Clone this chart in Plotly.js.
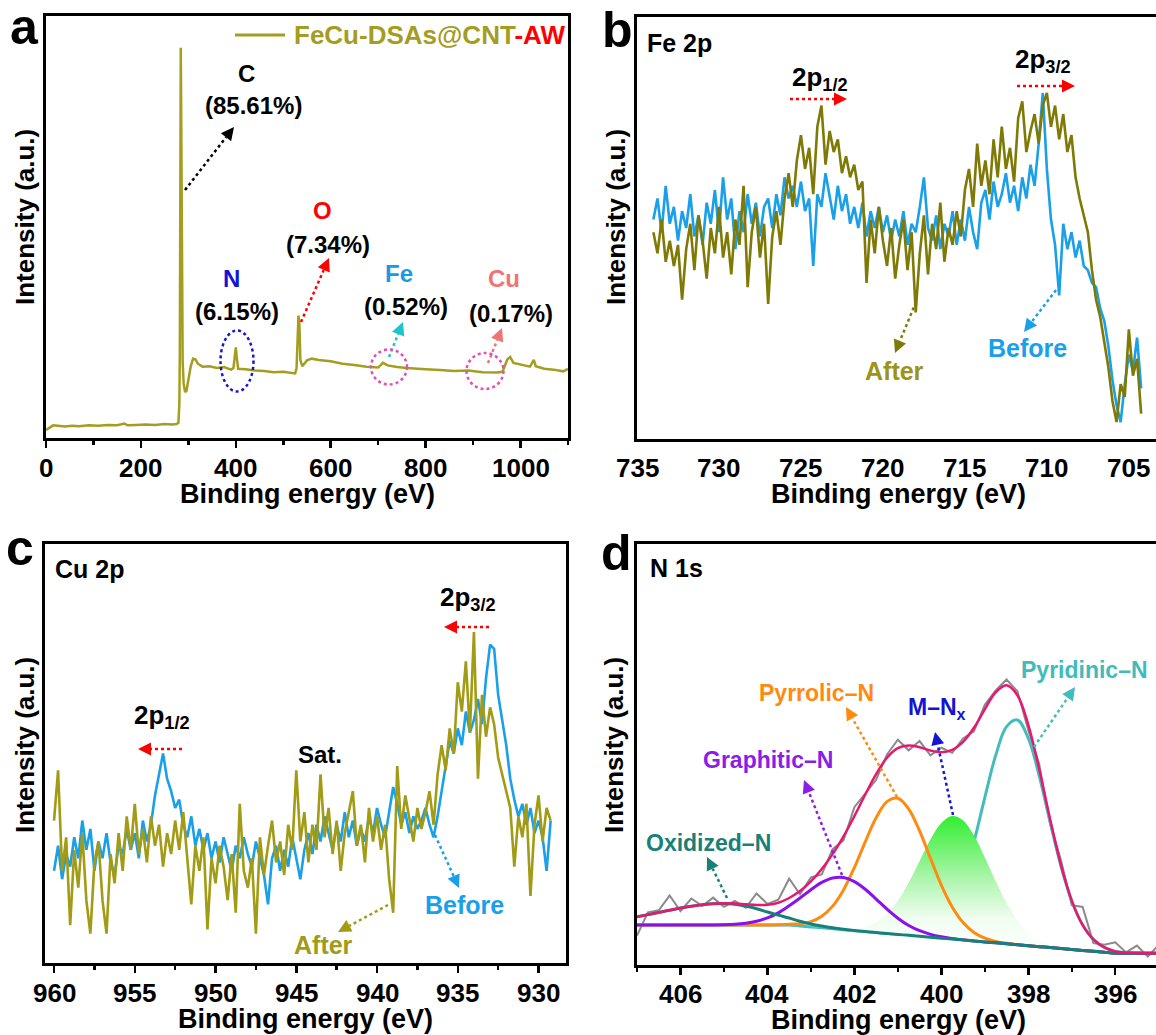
<!DOCTYPE html>
<html><head><meta charset="utf-8">
<script src="https://cdn.plot.ly/plotly-3.0.1.min.js"></script>
<style>html,body{margin:0;padding:0;overflow:hidden;background:#fff}#chart{width:1164px;height:1035px}</style>
</head><body><div id="chart"></div>
<script>
// ---------- DATA ----------
// (a) survey spectrum
const surveyBE = [0,8,15,25,40,55,70,90,110,130,150,165,172,190,210,230,250,265,275,279,281,282,283,284,285,286,287,288,290,293,296,300,305,310,315,320,330,345,360,375,390,395,398,400,402,405,420,440,460,480,500,515,525,528,530,532,534,536,540,550,560,575,600,625,650,675,700,710,720,740,760,780,800,830,860,890,920,950,962,972,978,985,995,1005,1020,1028,1032,1050,1070,1090,1100];
const surveyI  = [1.9,2.4,3.0,2.9,2.7,2.9,2.8,3.0,2.9,3.1,3.0,3.4,3.0,3.1,3.2,3.1,3.3,3.2,3.3,3.6,8.0,20,60,92.5,75,40,26,18,13,10.9,11.2,13.5,17.0,18.8,18.6,17.6,16.9,17.0,16.6,16.8,16.2,16.6,19.5,21.5,19.0,16.4,16.3,16.0,15.9,15.6,15.7,15.5,15.3,16.5,24,29.0,27,18.5,17.0,18.4,18.8,18.5,18.2,17.6,17.3,16.9,16.7,17.8,17.2,16.8,16.6,16.4,16.3,16.1,15.9,16.0,15.6,15.5,15.7,18.6,19.2,17.8,17.5,17.3,16.9,18.5,17.0,16.4,16.2,15.8,16.4];

// (b) Fe 2p, sampled from 734.00 eV down to 704.25 eV every 0.25 eV
const feStart = 734.0, feStep = 0.25;
const feAfter = [49,44,52,42,47,41,46,33, 45,51,40,53,47,38,50,44, 55,43,49,39,52,46,60,36, 49,55,43,51,32,48,54,46,
  57,63,55,66,72,64,69,58, 74,79,65,73,68,71,63,67, 62,65,59,61,37,52,44,55, 47,41,50,38,46,52,40,49,
  30,44,53,39,51,45,56,42, 50,46,54,48,59,64,55,70, 60,66,58,71,62,74,64,69, 61,76,80,68,73,77,70,79,
  82,74,79,71,77,68,72,62, 57,53,49,40,33,29,23,17, 9,4,13,10,26,15,19,6];
const feBefore = [52,57,49,60,51,55,47,54, 50,58,48,53,46,56,51,59, 49,62,52,57,45,54,49,58, 51,56,48,55,57,50,58,53,
  62,57,60,55,61,54,57,41, 58,55,63,57,52,60,54,58, 51,55,50,56,48,54,50,55, 49,53,47,52,48,54,46,51,
  49,55,62,50,47,53,45,51, 48,54,46,52,47,55,49,45, 56,59,52,61,55,58,63,56, 60,54,62,57,65,60,70,82,
  64,52,46,34,51,45,49,43, 47,41,40,37,36,31,28,22, 14,8,4,13,20,16,24,12];

// (c) Cu 2p, sampled from 960.00 eV down to 929.25 eV every 0.25 eV
const cuStart = 960.0, cuStep = 0.25;
const cuAfter = [34,46,22,30,9,27,18,31, 15,7,24,29,15,7,26,19, 31,22,35,27,38,26,32,24, 35,28,33,23,31,26,34,27,
  36,25,14,28,22,30,8,25, 19,28,23,15,26,12,38,22, 18,25,7,30,21,28,34,24, 29,21,33,27,46,29,36,24,
  33,27,45,30,37,26,34,22, 31,36,41,28,33,24,37,29, 35,27,33,20,12,47,32,40, 34,29,37,32,36,41,33,45,
  52,46,56,50,67,60,72,55, 79,44,64,54,61,57,49,45, 41,37,23,35,30,38,16,33, 40,29,37,34];
const cuBefore = [22,28,20,26,23,30,25,34, 27,32,22,29,25,31,24,21, 28,26,32,27,31,25,34,29, 33,40,45,50,44,41,37,39,
  33,30,35,28,32,27,31,25, 29,24,30,26,22,28,25,30, 26,23,29,25,21,14,25,28, 22,27,23,30,25,20,27,31,
  26,33,29,35,31,27,33,29, 36,30,34,28,32,29,35,31, 37,33,30,36,42,38,33,36, 31,35,32,34,37,33,30,35,
  41,48,53,50,56,52,60,55, 58,63,57,68,76,75,64,58, 52,44,39,35,38,33,37,31, 34,30,22,34];

// (d) N 1s
const n1sBE = [407,406.75,406.5,406.25,406,405.75,405.5,405.25,405,404.75,404.5,404.25,404,403.75,403.5,403.25,403,402.75,402.5,402.25,402,401.75,401.5,401.25,401,400.75,400.5,400.25,400,399.75,399.5,399.25,399,398.75,398.5,398.25,398,397.75,397.5,397.25,397,396.75,396.5,396.25,396,395.75,395.5,395.25,395];
const n1sRaw = [7.0,12.5,13.0,16.5,12.8,15.8,14.0,16.0,13.8,15.2,13.6,17.0,14.5,15.5,20.5,16.8,20.8,21.5,27.5,29.6,37.5,40.8,44.0,50.0,53.5,51.0,53.2,49.8,51.6,50.4,53.8,55.5,61.8,65.2,67.8,65.0,55.8,47.8,33.6,25.0,14.2,13.8,5.2,4.8,5.4,3.0,4.6,2.0,4.8];
const n1sBaseline = [9.5,9.5,9.5,9.5,9.5,9.5,9.5,9.5,9.5,9.5,9.5,9.5,9.5,9.5,9.5,9.28,9.05,8.83,8.61,8.38,8.16,7.94,7.71,7.49,7.27,7.04,6.82,6.60,6.37,6.15,5.93,5.70,5.48,5.26,5.03,4.81,4.59,4.36,4.14,3.92,3.69,3.47,3.25,3.02,2.80,2.8,2.8,2.8,2.8];
const oxidizedN = [11.47,11.96,12.48,13.02,13.52,13.96,14.30,14.52,14.60,14.44,14.0,13.35,12.59,11.84,11.16,10.38,9.74,9.24,8.83,8.50,8.22,7.96,7.71,7.49,7.27,7.04,6.82,6.60,6.37,6.15,5.93,5.70,5.48,5.26,5.03,4.81,4.59,4.36,4.14,3.92,3.69,3.47,3.25,3.02,2.80,2.8,2.8,2.8,2.8];
const graphiticN = [9.5,9.5,9.5,9.5,9.5,9.5,9.51,9.53,9.58,9.69,9.93,10.39,11.18,12.39,14.07,15.92,17.88,19.61,20.67,20.76,19.81,18.0,15.67,13.27,11.12,9.39,8.14,7.28,6.69,6.29,5.98,5.70,5.48,5.26,5.03,4.81,4.59,4.36,4.14,3.92,3.69,3.47,3.25,3.02,2.80,2.8,2.8,2.8,2.8];
const pyrrolicN = [9.5,9.5,9.5,9.5,9.5,9.5,9.5,9.5,9.5,9.5,9.5,9.5,9.5,9.56,9.69,9.80,10.31,11.57,13.98,17.84,23.14,29.25,34.96,38.80,39.60,37.04,31.84,25.35,19.0,13.8,10.09,7.73,6.37,5.61,5.16,4.85,4.59,4.36,4.14,3.92,3.69,3.47,3.25,3.02,2.80,2.8,2.8,2.8,2.8];
const mNx = [9.5,9.5,9.5,9.5,9.5,9.5,9.5,9.5,9.5,9.5,9.5,9.5,9.5,9.5,9.5,9.28,9.05,8.86,8.68,8.58,8.66,9.10,10.14,12.11,15.25,19.58,24.73,29.82,33.71,35.39,34.34,30.78,25.58,19.90,14.71,10.63,7.76,5.93,4.85,4.21,3.80,3.51,3.25,3.02,2.80,2.8,2.8,2.8,2.8];
const pyridinicN = [9.5,9.5,9.5,9.5,9.5,9.5,9.5,9.5,9.5,9.5,9.5,9.5,9.5,9.5,9.5,9.28,9.05,8.83,8.61,8.38,8.16,7.94,7.71,7.51,7.34,7.27,7.48,8.29,10.24,14.07,20.38,29.24,39.75,49.77,56.61,58.20,53.89,45.0,34.05,23.56,15.19,9.49,6.06,4.19,3.24,2.94,2.84,2.80,2.80];
const n1sFit = [11.47,11.96,12.48,13.02,13.52,13.96,14.31,14.55,14.68,14.63,14.43,14.24,14.29,14.79,15.92,17.55,19.85,22.79,26.33,30.54,35.35,40.49,45.35,49.22,51.50,52.16,51.73,50.94,50.53,51.10,53.0,56.35,60.74,64.76,66.42,64.06,57.06,46.57,34.76,23.85,15.30,9.53,6.06,4.19,3.24,2.94,2.84,2.80,2.80];

// tick settings and tick labels
const surveyTicks = {dtick:200, minor:100}, surveyTickVals = [0,200,400,600,800,1000];
const feTicks = {dtick:5},                 feTickVals = [735,730,725,720,715,710,705];
const cuTicks = {dtick:5, minor:2.5},      cuTickVals = [960,955,950,945,940,935,930];
const n1sTicks = {dtick:2, minor:1},       n1sTickVals = [406,404,402,400,398,396];

// ---------- LAYOUT HELPERS ----------
const W = 1164, H = 1035;
const PX = x => x / W, PY = y => 1 - y / H;
const FONT = 'Liberation Sans, Arial, Helvetica, sans-serif';
const grid = (start, step, n) => Array.from({length:n}, (_, i) => +(start - i*step).toFixed(3));
const feBE = grid(feStart, feStep, feAfter.length);
const cuBE = grid(cuStart, cuStep, cuAfter.length);

const OLIVE_A = '#a59d1f', OLIVE_B = '#7f7a05', OLIVE_C = '#a29b16', BLUE = '#1aa0e8';

function xax(dom, range, t, showTicks, id) {
  const a = {domain:[PX(dom[0]), PX(dom[1])], range, autorange:false, anchor:'y'+id,
    showline:true, linewidth:3, linecolor:'#000', mirror:true, showgrid:false, zeroline:false,
    ticks: showTicks ? 'outside' : '', ticklen:7, tickwidth:2.5, tickcolor:'#000',
    dtick:t.dtick, tick0:0, showticklabels:false};
  if (t.minor) a.minor = {dtick:t.minor, tick0:0, ticks:'outside', ticklen:4, tickwidth:2.5, tickcolor:'#000', showgrid:false};
  return a;
}
function yax(dom, id) {
  return {domain:[PY(dom[1]), PY(dom[0])], range:[0,100], autorange:false, anchor:'x'+id,
    showline:true, linewidth:3, linecolor:'#000', mirror:true, showgrid:false, zeroline:false,
    ticks:'', showticklabels:false};
}

const shapes = [], annotations = [];
function txt(x, y, text, size, color, opts) {
  annotations.push(Object.assign({xref:'paper', yref:'paper', x:PX(x), y:PY(y), text, showarrow:false,
    xanchor:'center', yanchor:'middle', font:{family:FONT, size, color, weight:'bold'}}, opts || {}));
}
// tick labels placed on the axis' own data scale
function tickLabels(vals, xref, ypx) {
  vals.forEach(v => annotations.push({xref, yref:'paper', x:v, y:PY(ypx), text:String(v), showarrow:false,
    xanchor:'center', yanchor:'middle', font:{family:FONT, size:26, color:'#000', weight:'bold'}}));
}
function arrow(x1, y1, x2, y2, color) {
  const L = 13, Wd = 6.5;
  const dx = x2 - x1, dy = y2 - y1, len = Math.hypot(dx, dy), ux = dx/len, uy = dy/len;
  const bx = x2 - ux*L, by = y2 - uy*L;
  shapes.push({type:'line', xref:'paper', yref:'paper', x0:PX(x1), y0:PY(y1), x1:PX(bx), y1:PY(by),
    line:{color, width:2.5, dash:'dot'}});
  const p1x = bx - uy*Wd, p1y = by + ux*Wd, p2x = bx + uy*Wd, p2y = by - ux*Wd;
  shapes.push({type:'path', xref:'paper', yref:'paper', fillcolor:color, line:{width:0, color},
    path:`M${PX(x2)},${PY(y2)} L${PX(p1x)},${PY(p1y)} L${PX(p2x)},${PY(p2y)} Z`});
}
function ellipse(cx, cy, w, h, color) {
  shapes.push({type:'circle', xref:'paper', yref:'paper', x0:PX(cx-w/2), x1:PX(cx+w/2), y0:PY(cy+h/2), y1:PY(cy-h/2),
    line:{color, width:2.5, dash:'dot'}});
}

// ---------- TRACES ----------
const traces = [
  {x:surveyBE, y:surveyI, xaxis:'x', yaxis:'y', mode:'lines', line:{color:OLIVE_A, width:2.5}},
  {x:feBE, y:feBefore, xaxis:'x2', yaxis:'y2', mode:'lines', line:{color:BLUE, width:2.6}},
  {x:feBE, y:feAfter, xaxis:'x2', yaxis:'y2', mode:'lines', line:{color:OLIVE_B, width:2.6}},
  {x:cuBE, y:cuBefore, xaxis:'x3', yaxis:'y3', mode:'lines', line:{color:BLUE, width:2.6}},
  {x:cuBE, y:cuAfter, xaxis:'x3', yaxis:'y3', mode:'lines', line:{color:OLIVE_C, width:2.6}},
  {x:n1sBE, y:n1sRaw, xaxis:'x4', yaxis:'y4', mode:'lines', line:{color:'#8a8a8a', width:2}},
  {x:n1sBE, y:pyridinicN, xaxis:'x4', yaxis:'y4', mode:'lines', line:{color:'#45bcbc', width:3, shape:'spline'}},
  {x:n1sBE, y:n1sBaseline, xaxis:'x4', yaxis:'y4', mode:'lines', line:{width:0, color:'rgba(0,0,0,0)'}},
  {x:n1sBE, y:mNx, xaxis:'x4', yaxis:'y4', mode:'lines', line:{width:0, color:'rgba(0,0,0,0)', shape:'spline'}, fill:'tonexty',
    fillcolor:'rgba(120,240,120,0.8)',
    fillgradient:{type:'vertical', start:3, stop:35.4,
      colorscale:[[0,'rgb(255,255,255)'],[0.25,'rgb(240,253,240)'],[0.55,'rgb(170,245,170)'],[1,'rgb(50,238,50)']]}},
  {x:n1sBE, y:pyrrolicN, xaxis:'x4', yaxis:'y4', mode:'lines', line:{color:'#ff8a10', width:3, shape:'spline'}},
  {x:n1sBE, y:graphiticN, xaxis:'x4', yaxis:'y4', mode:'lines', line:{color:'#8a10f0', width:3, shape:'spline'}},
  {x:n1sBE, y:oxidizedN, xaxis:'x4', yaxis:'y4', mode:'lines', line:{color:'#16807a', width:3, shape:'spline'}},
  {x:n1sBE, y:n1sFit, xaxis:'x4', yaxis:'y4', mode:'lines', line:{color:'#e8186e', width:2.5, shape:'spline'}}
];

// ---------- ANNOTATIONS ----------
tickLabels(surveyTickVals, 'x', 468);
tickLabels(feTickVals, 'x2', 468);
tickLabels(cuTickVals, 'x3', 993);
tickLabels(n1sTickVals, 'x4', 994);
// axis titles
[[307,494],[898,494],[305,1019],[898,1020]].forEach(p => txt(p[0], p[1], 'Binding energy (eV)', 27, '#000'));
[[25,217],[616,217],[25,745],[614,745]].forEach(p => txt(p[0], p[1], 'Intensity (a.u.)', 26, '#000', {textangle:-90}));
// panel letters
txt(24, 27, 'a', 50, '#000'); txt(617, 30, 'b', 50, '#000'); txt(20, 548, 'c', 50, '#000'); txt(616, 553, 'd', 50, '#000');
// panel a
shapes.push({type:'line', xref:'paper', yref:'paper', x0:PX(235), x1:PX(285), y0:PY(35), y1:PY(35), line:{color:OLIVE_A, width:3}});
txt(292, 35, `<span style="color:${OLIVE_A}">FeCu-DSAs@CNT</span><span style="color:#ff0000">-AW</span>`, 26, OLIVE_A, {xanchor:'left'});
txt(246, 73, 'C', 24, '#000'); txt(253, 106, '(85.61%)', 24, '#000');
arrow(185, 190, 234, 127, '#000');
txt(322, 210, 'O', 24, '#ff0000'); txt(328, 245, '(7.34%)', 24, '#000');
arrow(301, 322, 329, 258, '#ff0000');
txt(231, 278, 'N', 24, '#1414d2'); txt(237, 312, '(6.15%)', 24, '#000');
ellipse(237, 361, 33, 61, '#1414d2');
txt(399, 273, 'Fe', 24, '#1a9be0'); txt(406, 307, '(0.52%)', 24, '#000');
arrow(389, 357, 403, 322, '#1ec4c8');
ellipse(389, 367, 36, 35, '#e050b8');
txt(504, 278, 'Cu', 24, '#f07474'); txt(511, 313, '(0.17%)', 24, '#000');
arrow(488, 363, 502, 328, '#f07474');
ellipse(485, 371, 37, 36, '#e050b8');
// panel b
txt(645, 43, 'Fe 2p', 25, '#000', {xanchor:'left'});
txt(820, 78, '2p<sub>1/2</sub>', 26, '#000');
arrow(790, 99, 847, 99, '#ff0000');
txt(1043, 60, '2p<sub>3/2</sub>', 26, '#000');
arrow(1017, 86, 1075, 86, '#ff0000');
arrow(916, 302, 895, 353, OLIVE_B);
txt(894, 371, 'After', 25, '#9a9418');
arrow(1056, 290, 1024, 332, BLUE);
txt(1027, 348, 'Before', 25, BLUE);
// panel c
txt(53, 569, 'Cu 2p', 25, '#000', {xanchor:'left'});
txt(162, 716, '2p<sub>1/2</sub>', 26, '#000');
arrow(182, 749, 138, 749, '#ff0000');
txt(320, 754, 'Sat.', 24, '#000');
txt(468, 598, '2p<sub>3/2</sub>', 26, '#000');
arrow(489, 627, 444, 627, '#ff0000');
arrow(435, 835, 459, 888, BLUE);
txt(464, 905, 'Before', 25, BLUE);
arrow(388, 905, 338, 932, OLIVE_C);
txt(323, 945, 'After', 25, OLIVE_C);
// panel d
txt(648, 568, 'N 1s', 25, '#000', {xanchor:'left'});
txt(1084, 670, 'Pyridinic\u2013N', 23, '#40bcbc');
arrow(1034, 747, 1075, 687, '#40bcbc');
txt(816, 693, 'Pyrrolic\u2013N', 23, '#ff8a10');
arrow(897, 797, 846, 707, '#ff8a10');
txt(937, 708, 'M\u2013N<sub>x</sub>', 23, '#1414d2');
arrow(953, 815, 935, 732, '#1414d2');
txt(768, 760, 'Graphitic\u2013N', 23, '#8a1ee8');
arrow(842, 875, 804, 780, '#8a1ee8');
txt(709, 843, 'Oxidized\u2013N', 23, '#16807a');
arrow(727, 898, 707, 857, '#16807a');

const layout = {
  width:W, height:H, margin:{l:0, r:0, t:0, b:0}, paper_bgcolor:'#fff', plot_bgcolor:'rgba(0,0,0,0)',
  showlegend:false, font:{family:FONT},
  xaxis: xax([46,568], [0,1100], surveyTicks, true, ''),
  yaxis: yax([16,438], ''),
  xaxis2: xax([637,1160], [735,703.1], feTicks, false, '2'),
  yaxis2: yax([17,439], '2'),
  xaxis3: xax([45,565.5], [960.56,928.33], cuTicks, true, '3'),
  yaxis3: yax([544,963], '3'),
  xaxis4: xax([637,1160], [407,394.97], n1sTicks, true, '4'),
  yaxis4: yax([544,965], '4'),
  shapes, annotations
};
layout.xaxis.anchor = 'y'; layout.yaxis.anchor = 'x';
Plotly.newPlot('chart', traces, layout, {staticPlot:true, displayModeBar:false});
</script>
</body></html>
